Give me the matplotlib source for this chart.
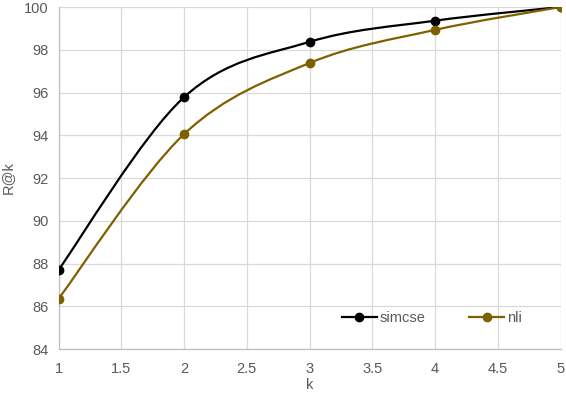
import matplotlib
matplotlib.use("Agg")
import matplotlib.pyplot as plt
from matplotlib.path import Path
from matplotlib.patches import PathPatch
from matplotlib.lines import Line2D
import numpy as np

k = [1, 2, 3, 4, 5]
simcse = [87.7, 95.78, 98.37, 99.36, 100.0]
nli = [86.35, 94.05, 97.38, 98.93, 100.0]
series_names = ["simcse", "nli"]
colors = ["#000000", "#7F6000"]
xticks = [1, 1.5, 2, 2.5, 3, 3.5, 4, 4.5, 5]
yticks = [84, 86, 88, 90, 92, 94, 96, 98, 100]

plt.rcParams['font.family'] = ['Liberation Sans', 'DejaVu Sans']

fig = plt.figure(figsize=(5.66, 3.94), dpi=100)
ax = fig.add_axes([0.1034, 0.1142, 0.8870, 0.8680])


def smooth_path(xs, ys):
    pts = np.column_stack([xs, ys]).astype(float)
    n = len(pts)
    verts = [pts[0]]
    codes = [Path.MOVETO]
    for i in range(n - 1):
        p0 = pts[i - 1] if i > 0 else pts[i]
        p1 = pts[i]
        p2 = pts[i + 1]
        p3 = pts[i + 2] if i + 2 < n else pts[i + 1]
        c1 = p1 + (p2 - p0) / 6.0
        c2 = p2 - (p3 - p1) / 6.0
        verts += [c1, c2, p2]
        codes += [Path.CURVE4] * 3
    return Path(verts, codes)


handles = []
for name, ys, c in zip(series_names, [simcse, nli], colors):
    patch = PathPatch(smooth_path(k, ys), facecolor='none', edgecolor=c,
                      lw=1.6, zorder=3, capstyle='round')
    ax.add_patch(patch)
    ax.plot(k, ys, linestyle='none', marker='o', markersize=6, color=c, zorder=4)
    handles.append(Line2D([], [], color=c, lw=1.6, marker='o', markersize=6, label=name))

fs = 10.5
ax.set_xlim(1, 5)
ax.set_ylim(84, 100)
ax.set_xticks(xticks)
ax.set_xticklabels([f"{t:g}" for t in xticks])
ax.set_yticks(yticks)
ax.grid(True, color='#d9d9d9', lw=0.9, zorder=0)
ax.set_axisbelow(True)
for s in ['top', 'right']:
    ax.spines[s].set_visible(False)
for s in ['left', 'bottom']:
    ax.spines[s].set_color('#bfbfbf')
    ax.spines[s].set_linewidth(0.9)
ax.tick_params(length=0, labelsize=fs, labelcolor='#595959')
ax.tick_params(axis='x', pad=9)
ax.tick_params(axis='y', pad=7)
ax.set_xlabel('k', fontsize=fs, color='#595959', labelpad=2)
ax.set_ylabel('R@k', fontsize=fs, color='#595959', labelpad=7)

leg = ax.legend(handles=handles, loc='center', bbox_to_anchor=(0.744, 0.0906),
                ncol=2, frameon=False, fontsize=fs, handlelength=2.4,
                handletextpad=0.2, columnspacing=3.0, labelcolor='#595959')

fig.savefig('out.png', dpi=100)
